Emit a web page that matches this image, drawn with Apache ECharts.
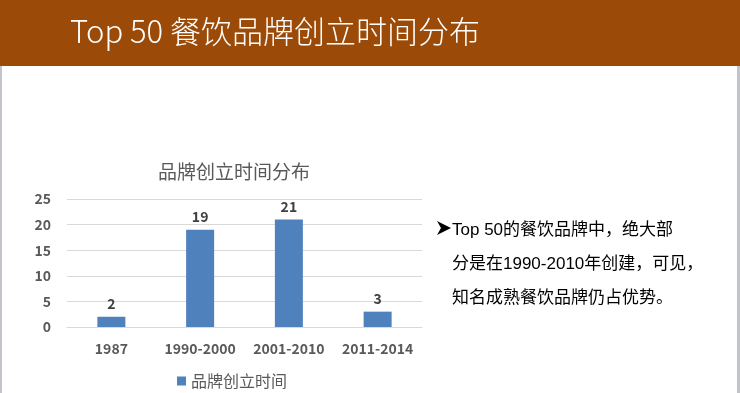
<!DOCTYPE html>
<html><head><meta charset="utf-8">
<script src="https://cdn.jsdelivr.net/npm/echarts@6/dist/echarts.min.js"></script>
<style>html,body{margin:0;padding:0;background:#fff}#c{width:740px;height:393px}</style>
</head><body><div id="c"></div>
<script>
const categories = ['1987', '1990-2000', '2001-2010', '2011-2014'];
const values = [2, 19, 21, 3];
const seriesName = '品牌创立时间';
const chartTitle = '品牌创立时间分布';
const headerTitle = 'Top 50 餐饮品牌创立时间分布';
const bulletLines = ['Top 50的餐饮品牌中，绝大部', '分是在1990-2010年创建，可见，', '知名成熟餐饮品牌仍占优势。'];

const cjk = '"Noto Sans CJK SC", "Noto Sans", sans-serif';
const chart = echarts.init(document.getElementById('c'));
chart.setOption({
  backgroundColor: '#ffffff',
  animation: false,
  title: {
    text: chartTitle, left: 229, top: 157, textAlign: 'center',
    textStyle: { color: '#595959', fontSize: 19, fontWeight: 'normal', fontFamily: cjk }
  },
  legend: {
    data: [seriesName], left: 172, top: 368, icon: 'rect', itemWidth: 9, itemHeight: 9, itemGap: 4,
    textStyle: { color: '#595959', fontSize: 16, fontFamily: cjk }
  },
  grid: { left: 67, right: 318, top: 199, bottom: 66 },
  xAxis: {
    type: 'category', data: categories,
    axisLine: { lineStyle: { color: '#d9d9d9' } },
    axisTick: { show: false },
    axisLabel: { interval: 0, color: '#595959', fontSize: 14, fontWeight: 'bold', fontFamily: cjk, margin: 15 }
  },
  yAxis: {
    type: 'value', min: 0, max: 25, interval: 5,
    axisLine: { show: false }, axisTick: { show: false },
    splitLine: { lineStyle: { color: '#d9d9d9' } },
    axisLabel: { color: '#595959', fontSize: 14, fontWeight: 'bold', fontFamily: cjk, margin: 16 }
  },
  series: [{
    name: seriesName, type: 'bar', data: values, barWidth: 28,
    itemStyle: { color: '#4f81bd' },
    label: { show: true, position: 'top', distance: 6, color: '#404040', fontSize: 14, fontWeight: 'bold', fontFamily: cjk }
  }],
  graphic: [
    { type: 'rect', shape: { x: 0, y: 0, width: 740, height: 66 }, style: { fill: '#9b4a07' }, z: 10 },
    { type: 'rect', shape: { x: 0, y: 66, width: 2, height: 327 }, style: { fill: '#c3c3cb' }, z: 10 },
    { type: 'rect', shape: { x: 737, y: 66, width: 3, height: 327 }, style: { fill: '#c3c3cb' }, z: 10 },
    { type: 'text', left: 70, top: 16, z: 11,
      style: { text: headerTitle, fill: '#ffffff', fontSize: 31, fontFamily: cjk, fontWeight: 300 } },
    { type: 'polygon', z: 11, shape: { points: [[437, 221], [451, 228], [437, 235], [441, 228]] }, style: { fill: '#000000' } },
    { type: 'text', left: 452, top: 213, z: 11,
      style: { text: bulletLines.join('\n'), fill: '#000000', fontSize: 17, lineHeight: 34, fontFamily: '"Liberation Sans", "Noto Sans CJK SC", sans-serif' } }
  ]
});
</script></body></html>
